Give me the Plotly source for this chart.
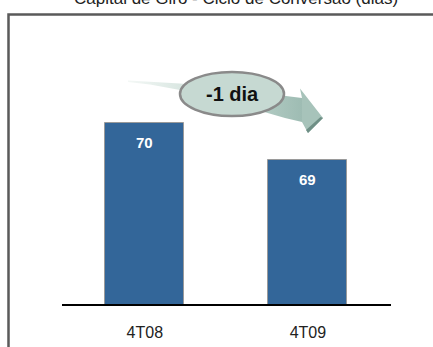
import plotly.graph_objects as go

# Data
periods = ["4T08", "4T09"]
days = [70, 69]
change_label = "-1 dia"
title_text = "Capital de Giro - Ciclo de Conversão (dias)"

W, H = 433, 347
BAR_COLOR = "#336699"

fig = go.Figure()

fig.add_trace(go.Bar(
    x=periods, y=days,
    width=0.485,
    marker=dict(color=BAR_COLOR, line=dict(color="#9a9a9a", width=1)),
    hoverinfo="skip",
    showlegend=False,
))

# value labels inside the top of each bar
annotations = []
for p, v in zip(periods, days):
    annotations.append(dict(
        x=p, y=v, xref="x", yref="y", text=f"<b>{v}</b>",
        showarrow=False, yanchor="middle", yshift=-19,
        font=dict(family="Arial, Liberation Sans", size=15, color="white"),
    ))

# decorative swoosh arrow drawn in a pixel-space axis pair covering the page
upper = [(128, 80.5), (150, 81.5), (180, 83.5), (210, 86.5), (240, 90), (270, 94), (302, 98)]
lower = [(302, 122), (285, 118), (265, 112), (240, 105), (210, 97), (180, 90), (150, 84.5), (128, 82)]
head = [(302, 98), (300, 88.5), (323, 118), (308, 133), (302, 122)]
body = upper + lower
fig.add_trace(go.Scatter(
    x=[p[0] for p in body] + [body[0][0]], y=[p[1] for p in body] + [body[0][1]],
    xaxis="x2", yaxis="y2", mode="lines", line=dict(width=0),
    fill="toself",
    fillgradient=dict(type="horizontal",
                      colorscale=[[0, "#f4f8f6"], [0.5, "#c9dcd5"], [1, "#9ebcb3"]]),
    hoverinfo="skip", showlegend=False,
))
fig.add_trace(go.Scatter(
    x=[p[0] for p in head] + [head[0][0]], y=[p[1] for p in head] + [head[0][1]],
    xaxis="x2", yaxis="y2", mode="lines", line=dict(width=0),
    fill="toself", fillcolor="#a7c3ba",
    hoverinfo="skip", showlegend=False,
))
# shadow edge of the arrow head
fig.add_trace(go.Scatter(
    x=[323, 308, 306, 320.5, 323], y=[118, 133, 130, 117, 118],
    xaxis="x2", yaxis="y2", mode="lines", line=dict(width=0),
    fill="toself", fillcolor="#6f8f86",
    hoverinfo="skip", showlegend=False,
))

FRAME_COLOR = "#5a5a5a"
shapes = [
    # ellipse badge
    dict(type="circle", xref="x2", yref="y2", x0=180, x1=284, y0=72, y1=116,
         fillcolor="#c6d9d2", line=dict(color="#8a8a8a", width=2.5)),
    # outer frame box; its right and bottom sides run past the page edge
    dict(type="rect", xref="paper", yref="paper",
         x0=8.5 / W, x1=(W + 40) / W, y0=-40 / H, y1=1 - 14.5 / H,
         fillcolor="rgba(0,0,0,0)", line=dict(color=FRAME_COLOR, width=2.5),
         layer="below"),
]

annotations.append(dict(
    x=232, y=94, xref="x2", yref="y2", text=f"<b>{change_label}</b>",
    showarrow=False, font=dict(family="Arial, Liberation Sans", size=20, color="#111"),
))
annotations.append(dict(
    x=400 / W, y=1 + 1 / H, xref="paper", yref="paper", text=title_text,
    showarrow=False, xanchor="right", yanchor="middle",
    font=dict(family="Arial, Liberation Sans", size=17, color="#222"),
))

k = 37.2
y0 = 65.13
plot_h = 304.3 - 40

fig.update_layout(
    width=W, height=H,
    margin=dict(l=0, r=0, t=0, b=0),
    paper_bgcolor="white", plot_bgcolor="rgba(0,0,0,0)",
    bargap=0,
    xaxis=dict(
        domain=[62 / W, 390.7 / W], range=[-0.508, 1.508],
        showline=True, linecolor="black", linewidth=2,
        showgrid=False, zeroline=False,
        ticks="outside", ticklen=12, tickcolor="rgba(0,0,0,0)",
        tickfont=dict(family="Arial, Liberation Sans", size=16, color="#222"),
        fixedrange=True, anchor="y",
    ),
    yaxis=dict(
        domain=[1 - 304.3 / H, 1 - 40 / H], range=[y0, y0 + plot_h / k],
        visible=False, fixedrange=True, anchor="x",
    ),
    xaxis2=dict(domain=[0, 1], range=[0, W], visible=False, anchor="y2", fixedrange=True,
                showline=False, zeroline=False, showgrid=False),
    yaxis2=dict(domain=[0, 1], range=[H, 0], visible=False, anchor="x2", fixedrange=True,
                showline=False, zeroline=False, showgrid=False),
    shapes=shapes,
    annotations=annotations,
)

fig.write_html("out.html", config={"displayModeBar": False})
